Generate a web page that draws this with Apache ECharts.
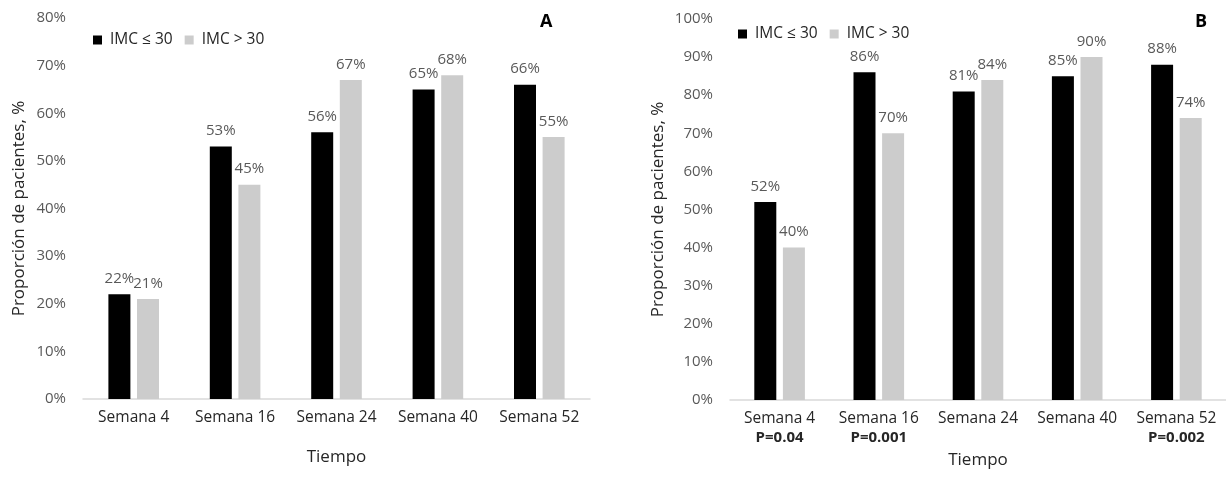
<!DOCTYPE html>
<html>
<head>
<meta charset="utf-8">
<script src="https://cdn.jsdelivr.net/npm/echarts@6/dist/echarts.min.js"></script>
<style>
  html, body { margin: 0; padding: 0; background: #fff; }
  #chart { width: 1226px; height: 483px; }
</style>
</head>
<body>
<div id="chart"></div>
<script>
// Response over time by BMI group (panels A and B)
const categories = ['Semana 4', 'Semana 16', 'Semana 24', 'Semana 40', 'Semana 52'];
const seriesNames = ['IMC ≤ 30', 'IMC > 30'];
const panelA_low = [22, 53, 56, 65, 66];
const panelA_high = [21, 45, 67, 68, 55];
const panelB_low = [52, 86, 81, 85, 88];
const panelB_high = [40, 70, 84, 90, 74];
const panelB_pValues = ['P=0.04', 'P=0.001', '', '', 'P=0.002'];
const panelA_max = 80;
const panelB_max = 100;

const FONT = '"Open Sans", "DejaVu Sans", sans-serif';
const BLACK = '#000000';
const GREY = '#cccccc';
const LABEL_GREY = '#595959';
const TEXT_DARK = '#262626';

function barSeries(name, data, color, axisIndex) {
  return {
    name: name,
    type: 'bar',
    xAxisIndex: axisIndex,
    yAxisIndex: axisIndex,
    data: data,
    barWidth: 22,
    barGap: '30%',
    itemStyle: { color: color },
    label: {
      show: true,
      position: 'top',
      distance: 8,
      formatter: '{c}%',
      color: LABEL_GREY,
      fontFamily: FONT,
      fontSize: 15
    }
  };
}

function yAxisFor(gridIndex, max, gap) {
  return {
    type: 'value',
    gridIndex: gridIndex,
    min: 0,
    max: max,
    interval: 10,
    name: 'Proporción de pacientes, %',
    nameLocation: 'middle',
    nameGap: gap,
    nameTextStyle: { color: TEXT_DARK, fontFamily: FONT, fontSize: 17 },
    axisLine: { show: false },
    axisTick: { show: false },
    splitLine: { show: false },
    axisLabel: {
      formatter: '{value}%',
      color: LABEL_GREY,
      fontFamily: FONT,
      fontSize: 15,
      margin: 17
    }
  };
}

function xAxisFor(gridIndex, withP) {
  return {
    type: 'category',
    gridIndex: gridIndex,
    data: categories,
    name: 'Tiempo',
    nameLocation: 'middle',
    nameGap: withP ? 46 : 50,
    nameTextStyle: { color: TEXT_DARK, fontFamily: FONT, fontSize: 17 },
    axisLine: { lineStyle: { color: '#d9d9d9', width: 1.5 } },
    axisTick: { show: false },
    axisLabel: {
      interval: 0,
      color: TEXT_DARK,
      fontFamily: FONT,
      fontSize: 15.5,
      margin: 9,
      lineHeight: 19,
      formatter: withP
        ? function (value, idx) {
            const p = panelB_pValues[idx];
            return p ? value + '\n{p|' + p + '}' : value;
          }
        : '{value}',
      rich: {
        p: { fontWeight: 'bold', color: TEXT_DARK, fontFamily: FONT, fontSize: 15, lineHeight: 19 }
      }
    }
  };
}

function legendAt(left, top) {
  return {
    left: left,
    top: top,
    itemWidth: 9,
    itemHeight: 9,
    itemGap: 12,
    icon: 'rect',
    data: seriesNames,
    selectedMode: false,
    textStyle: { color: TEXT_DARK, fontFamily: FONT, fontSize: 15.5, padding: [0, 0, 0, 3] }
  };
}

const chart = echarts.init(document.getElementById('chart'), null, { renderer: 'canvas' });
chart.setOption({
  animation: false,
  backgroundColor: '#ffffff',
  color: [BLACK, GREY],
  title: [
    { text: 'A', left: 535, top: 8, textStyle: { fontFamily: FONT, fontWeight: 'bold', fontSize: 18, color: '#000' } },
    { text: 'B', left: 1190, top: 8, textStyle: { fontFamily: FONT, fontWeight: 'bold', fontSize: 18, color: '#000' } }
  ],
  legend: [legendAt(88, 27), legendAt(733, 21)],
  grid: [
    { left: 83, right: 636, top: 18, bottom: 84 },
    { left: 730, right: 0, top: 19, bottom: 83 }
  ],
  xAxis: [xAxisFor(0, false), xAxisFor(1, true)],
  yAxis: [yAxisFor(0, panelA_max, 55), yAxisFor(1, panelB_max, 63)],
  series: [
    barSeries(seriesNames[0], panelA_low, BLACK, 0),
    barSeries(seriesNames[1], panelA_high, GREY, 0),
    barSeries(seriesNames[0], panelB_low, BLACK, 1),
    barSeries(seriesNames[1], panelB_high, GREY, 1)
  ]
});
</script>
</body>
</html>
